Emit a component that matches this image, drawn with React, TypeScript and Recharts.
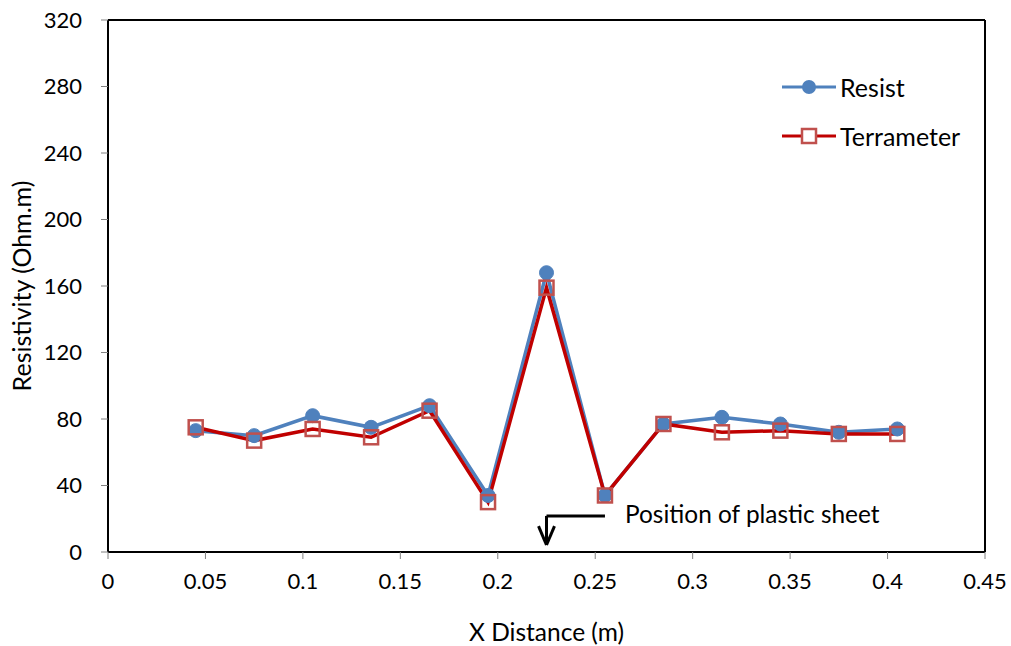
import React from 'react';
import { LineChart, Line, XAxis, YAxis, ReferenceLine, ReferenceDot, Legend } from 'recharts';

const xDistance = [0.045, 0.075, 0.105, 0.135, 0.165, 0.195, 0.225, 0.255, 0.285, 0.315, 0.345, 0.375, 0.405];
const resist = [73, 70, 82, 75, 88, 34, 168, 34, 77, 81, 77, 72, 74];
const terrameter = [75, 67, 74, 69, 85, 30, 159, 34, 77, 72, 73, 71, 71];

const xTicks = [0, 0.05, 0.1, 0.15, 0.2, 0.25, 0.3, 0.35, 0.4, 0.45];
const yTicks = [0, 40, 80, 120, 160, 200, 240, 280, 320];

const BLUE = '#4F81BD';
const RED = '#C00000';
const RED_MARKER = '#C0504D';
const FONT = 'Lato, "Open Sans", sans-serif';

// sheet annotation anchor (data units)
const sheetX = 0.225;
const sheetArmEnd = 0.255;
const sheetArmY = 21.7;
const sheetTipY = 4.2;
const sheetHeadY = 15.6;
const sheetHeadDx = 0.0041;

const data = xDistance.map((x, i) => ({ x, resist: resist[i], terrameter: terrameter[i] }));

const SquareDot = (props: any) => {
  const { cx, cy } = props;
  if (cx == null || cy == null) return null;
  return <rect x={cx - 7} y={cy - 7} width={14} height={14} fill="none" stroke={RED_MARKER} strokeWidth={2.5} />;
};

const LegendBox = () => (
  <div style={{ fontFamily: FONT, fontSize: 25, color: '#000' }}>
    {[
      { name: 'Resist', color: BLUE, square: false },
      { name: 'Terrameter', color: RED, square: true },
    ].map((item, i) => (
      <div key={item.name} style={{ display: 'flex', alignItems: 'center', height: 28, marginBottom: i === 0 ? 21 : 0 }}>
        <svg width={56} height={20}>
          <line x1={0} y1={10} x2={54} y2={10} stroke={item.color} strokeWidth={3} />
          {item.square ? (
            <rect x={20} y={3} width={14} height={14} fill="white" stroke={RED_MARKER} strokeWidth={2.5} />
          ) : (
            <circle cx={27} cy={10} r={7} fill={item.color} />
          )}
        </svg>
        <span style={{ marginLeft: 2 }}>{item.name}</span>
      </div>
    ))}
  </div>
);

export default function App() {
  return (
    <div style={{ position: 'absolute', left: 0, top: 0, width: 1011, height: 646, background: '#fff' }}>
      <LineChart width={1011} height={646} data={data} margin={{ top: 20, right: 26, bottom: 0, left: 0 }}>
        <XAxis
          dataKey="x"
          type="number"
          domain={[0, 0.45]}
          ticks={xTicks}
          allowDecimals
          height={94}
          stroke="#000"
          strokeWidth={2}
          tickSize={7}
          tickMargin={14}
          tick={{ fill: '#000', fontSize: 22, fontFamily: FONT }}
          tickLine={{ stroke: '#808080', strokeWidth: 1 }}
          label={{ value: 'X Distance (m)', position: 'insideBottom', offset: 5, fill: '#000', fontSize: 24.5, fontFamily: FONT }}
        />
        <YAxis
          type="number"
          domain={[0, 320]}
          ticks={yTicks}
          width={108}
          stroke="#000"
          strokeWidth={2}
          tickSize={7}
          tickMargin={19}
          tick={{ fill: '#000', fontSize: 22, fontFamily: FONT }}
          tickLine={{ stroke: '#808080', strokeWidth: 1 }}
          label={{ value: 'Resistivity (Ohm.m)', angle: -90, position: 'insideLeft', dx: 17, style: { textAnchor: 'middle' }, fill: '#000', fontSize: 25, fontFamily: FONT }}
        />
        <ReferenceLine y={320} stroke="#000" strokeWidth={2} />
        <ReferenceLine x={0.45} stroke="#000" strokeWidth={2} />
        <Legend layout="vertical" align="center" verticalAlign="middle" content={<LegendBox />} wrapperStyle={{ position: 'absolute', top: 73, left: 782, width: 220 }} />
        <Line
          dataKey="resist"
          name="Resist"
          stroke={BLUE}
          strokeWidth={3.5}
          dot={{ r: 7, fill: BLUE, stroke: BLUE, strokeWidth: 1 }}
          activeDot={false}
          isAnimationActive={false}
        />
        <Line
          dataKey="terrameter"
          name="Terrameter"
          stroke={RED}
          strokeWidth={3.5}
          dot={<SquareDot />}
          activeDot={false}
          isAnimationActive={false}
        />
        <ReferenceLine segment={[{ x: sheetX, y: sheetArmY }, { x: sheetArmEnd, y: sheetArmY }]} stroke="#000" strokeWidth={3} />
        <ReferenceLine segment={[{ x: sheetX, y: sheetArmY }, { x: sheetX, y: sheetTipY }]} stroke="#000" strokeWidth={3} />
        <ReferenceLine segment={[{ x: sheetX - sheetHeadDx, y: sheetHeadY }, { x: sheetX, y: sheetTipY }]} stroke="#000" strokeWidth={3} />
        <ReferenceLine segment={[{ x: sheetX + sheetHeadDx, y: sheetHeadY }, { x: sheetX, y: sheetTipY }]} stroke="#000" strokeWidth={3} />
        <ReferenceDot
          x={0.2653}
          y={22.6}
          r={0}
          stroke="none"
          fill="none"
          label={{ value: 'Position of plastic sheet', position: 'right', offset: 0, fill: '#000', fontSize: 24.4, fontFamily: FONT }}
        />
      </LineChart>
    </div>
  );
}
